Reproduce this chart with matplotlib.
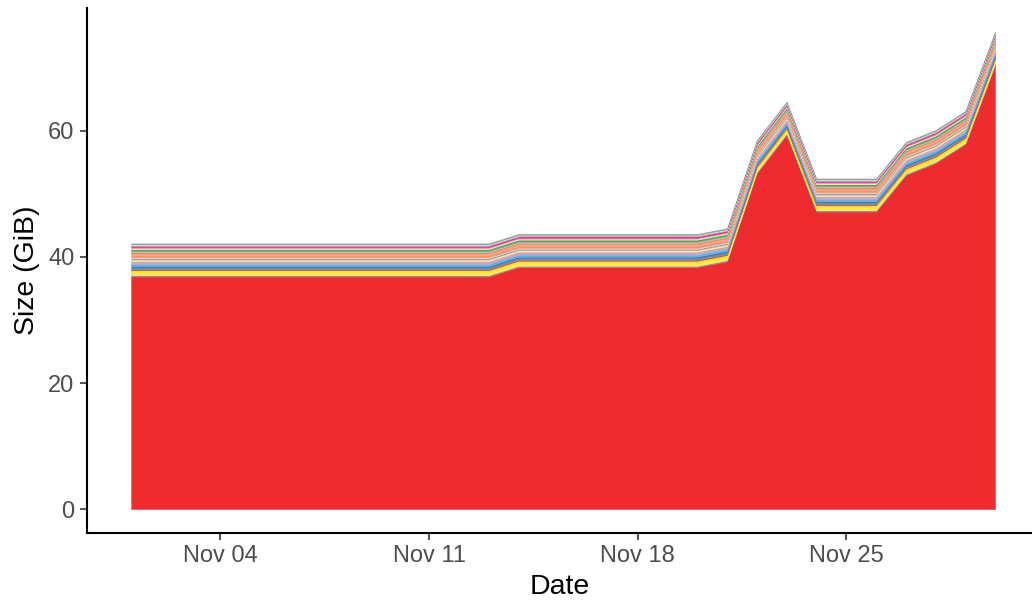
import numpy as np
import pandas as pd
import matplotlib
matplotlib.use("Agg")
import matplotlib.pyplot as plt
import matplotlib.dates as mdates

plt.rcParams['font.family'] = ['Liberation Sans', 'DejaVu Sans']

# ---- data ----
dates = pd.date_range("2023-11-01", "2023-11-30", freq="D")
main_sizes = [36.9, 36.9, 36.9, 36.9, 36.9, 36.9, 36.9, 36.9, 36.9, 36.9,
              36.9, 36.9, 36.9, 38.4, 38.4, 38.4, 38.4, 38.4, 38.4, 38.4,
              39.3, 53.3, 59.4, 47.2, 47.2, 47.2, 53.0, 54.9, 57.9, 70.5]
layer_colors = ['#9e8a80', '#f5e79e', '#ffed2a', '#ffd92f', '#a65628', '#8d83b0',
                '#377eb8', '#56b4e9', '#b3a6d2', '#d8a39d', '#f2e6b8', '#999999',
                '#dddddd', '#fc8d62', '#f4a582', '#e78a6a', '#c9b3b3', '#4daf4a',
                '#e5f5e0', '#f781bf', '#e7298a', '#b0b0b0', '#e8e8e8', '#7f9f8a']
layer_sizes = [0.2, 0.15, 0.35, 0.3, 0.15, 0.25, 0.25, 0.3, 0.25, 0.25, 0.25, 0.2,
               0.15, 0.3, 0.3, 0.2, 0.2, 0.3, 0.15, 0.15, 0.2, 0.15, 0.1, 0.15]
main_color = '#ee2c30'

# ---- figure ----
fig = plt.figure(figsize=(10.32, 6.01), dpi=100)
W, H = 1032, 601
ax = fig.add_axes([87 / W, (H - 533) / H, (1032 - 87) / W, (533 - 8) / H])

series = [np.array(main_sizes)] + [np.full(len(dates), s) for s in layer_sizes]
colors = [main_color] + layer_colors
polys = ax.stackplot(dates, *series, colors=colors, linewidth=0.3)
for p, c in zip(polys, colors):
    p.set_edgecolor(c)

# x range (ggplot-like expansion)
ax.set_xlim(dates[0] - pd.Timedelta(days=1.48), dates[-1] + pd.Timedelta(days=1.24))
ax.set_ylim(-3.8, 79.5)

ticks = pd.to_datetime(["2023-11-04", "2023-11-11", "2023-11-18", "2023-11-25"])
ax.set_xticks(ticks)
ax.xaxis.set_major_formatter(mdates.DateFormatter("%b %d"))
ax.set_yticks([0, 20, 40, 60])

for s in ['top', 'right']:
    ax.spines[s].set_visible(False)
for s in ['left', 'bottom']:
    ax.spines[s].set_linewidth(1.5)
    ax.spines[s].set_color('black')

ax.tick_params(axis='both', length=5, width=1.2, color='#333333',
               labelsize=17, labelcolor='#4d4d4d', pad=4)
ax.set_xlabel("Date", fontsize=20.5, color='black', labelpad=5)
ax.set_ylabel("Size (GiB)", fontsize=20.5, color='black', labelpad=6)

fig.savefig("out.png", dpi=100)
